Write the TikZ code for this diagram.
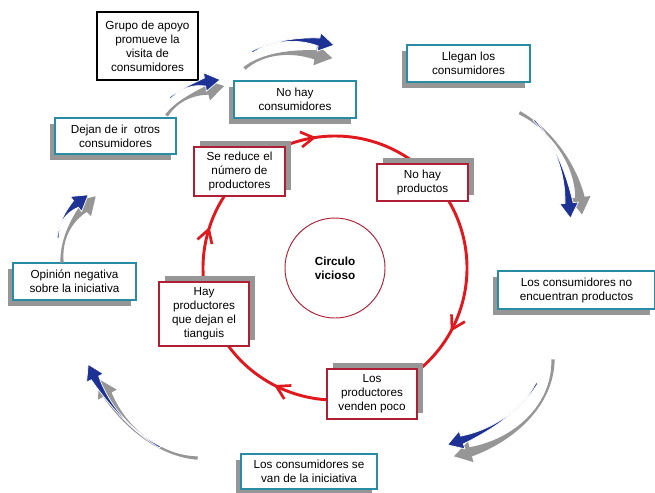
\documentclass[tikz,border=0pt]{standalone}
\usepackage{fontspec}
\setmainfont{Liberation Sans}
\usepackage{xcolor}
\usepackage{tikz}
\usetikzlibrary{calc}
\usetikzlibrary{arrows.meta}
\usetikzlibrary{shadows}
\usetikzlibrary{decorations.markings}

\definecolor{bordeazul}{RGB}{40,140,165}
\definecolor{borderojo}{RGB}{175,30,50}
\definecolor{rojociclo}{RGB}{225,25,30}
\definecolor{azulflecha}{RGB}{30,50,150}
\definecolor{grissombra}{RGB}{150,150,150}

\begin{document}
\begin{tikzpicture}[
        x=0.03cm, y=-0.03cm,
        font=\fontsize{10}{12}\selectfont,
        cajaazul/.style={draw=bordeazul, line width=1.2pt, fill=white, align=center, inner sep=2pt,
            drop shadow={shadow xshift=-4.3pt, shadow yshift=-5.1pt, fill=grissombra, opacity=1}},
        cajaroja/.style={draw=borderojo, line width=1.2pt, fill=white, align=center, inner sep=2pt,
            drop shadow={shadow xshift=5.1pt, shadow yshift=5.1pt, fill=grissombra, opacity=1}},
        cajanegra/.style={draw=black, line width=2.5pt, fill=white, align=center},
        ciclo/.style={draw=rojociclo, line width=2.5pt, postaction={decorate},
            decoration={markings, mark=at position #1 with {\arrow{Straight Barb[length=11pt, width=13pt, line width=2.3pt]}}}},
        azul/.style={fill=azulflecha, draw=white, line width=0.6pt},
        gris/.style={fill=grissombra, draw=grissombra, line width=1.2pt}
    ]

    \useasboundingbox (0,0) rectangle (655,492);

    %=== Flecha curva (estilo, inicio, control, control, base de la punta) ===%
    \newcommand{\flecha}[5]{
        \path[#1] ($(#2)!0.8pt!-90:(#3)$) .. controls (#3) and (#4) .. ($(#5)!3.5pt!90:(#4)$)
            -- ($(#5)!8pt!90:(#4)$) -- ($(#5)!13pt!180:(#4)$) -- ($(#5)!8pt!-90:(#4)$)
            -- ($(#5)!3.5pt!-90:(#4)$) .. controls (#4) and (#3) .. ($(#2)!0.8pt!90:(#3)$) -- cycle;
    }

    %=== Circulo vicioso ===%
    \node[draw=borderojo, line width=0.8pt, circle, minimum size=3cm, align=center,
        font=\bfseries\fontsize{10}{12}\selectfont] (vicioso) at (335,268) {Circulo\\vicioso};

    \draw[ciclo=0.41] ($(vicioso)+(-135:132)$) arc[start angle=-135, end angle=-45, radius=132];
    \draw[ciclo=0.62] ($(vicioso)+(-45:132)$) arc[start angle=-45, end angle=74, radius=132];
    \draw[ciclo=0.5] ($(vicioso)+(74:132)$) arc[start angle=74, end angle=161, radius=132];
    \draw[ciclo=0.58] ($(vicioso)+(161:132)$) arc[start angle=161, end angle=225, radius=132];

    %=== Productores ===%
    \node[cajaroja, minimum width=2.73cm, minimum height=1.47cm] (sereduce) at (239.5,171.5) {Se reduce el\\número de\\productores};
    \node[cajaroja, minimum width=2.73cm, minimum height=1.11cm] (nohayprod) at (422.5,182.5) {No hay\\productos};
    \node[cajaroja, minimum width=2.7cm, minimum height=1.5cm] (venden) at (372,394) {Los\\productores\\venden poco};
    \node[cajaroja, minimum width=2.7cm, minimum height=1.92cm] (hayprod) at (204,314) {Hay\\productores\\que dejan el\\tianguis};

    %=== Consumidores ===%
    \node[cajaazul, minimum width=3.66cm, minimum height=1.11cm] (nohaycons) at (295,99.5) {No hay\\consumidores};
    \node[cajaazul, minimum width=3.69cm, minimum height=1.11cm] (llegan) at (468.5,63.5) {Llegan los\\consumidores};
    \node[cajaazul, minimum width=4.71cm, minimum height=1.14cm] (noencuentran) at (576.5,290) {Los consumidores no\\encuentran productos};
    \node[cajaazul, minimum width=4.08cm, minimum height=1.05cm] (sevan) at (309,471.5) {Los consumidores se\\van de la iniciativa};
    \node[cajaazul, minimum width=3.69cm, minimum height=1.11cm] (opinion) at (74.5,281.5) {Opinión negativa\\sobre la iniciativa};
    \node[cajaazul, minimum width=3.63cm, minimum height=1.08cm] (dejan) at (115.5,136) {Dejan de ir\ \ otros\\consumidores};

    \node[cajanegra, minimum width=3.03cm, minimum height=2.04cm] (grupo) at (147.5,46) {Grupo de apoyo\\promueve la\\visita de\\consumidores};

    %=== Flechas azules ===%
    \flecha{gris}{245,68}{262,54}{290,50}{316,55}
    \flecha{azul}{252,52}{268,42}{295,37}{319,42}

    \flecha{gris}{167,115}{176,102}{192,94}{208,90}
    \flecha{azul}{170,98}{180,89}{192,84}{205,82}

    \flecha{gris}{520,113}{552,130}{576,165}{580,198}
    \flecha{azul}{534,120}{553,140}{566,172}{569,203}

    \flecha{gris}{553,360}{553,405}{515,440}{470,452}
    \flecha{azul}{537,383}{522,410}{492,430}{462,440}

    \flecha{gris}{197,458}{160,456}{125,428}{107,394}
    \flecha{azul}{160,447}{132,432}{108,404}{95,378}

    \flecha{gris}{62,262}{61,240}{70,222}{84,208}
    \flecha{azul}{58,238}{58,225}{64,213}{76,204}

\end{tikzpicture}
\end{document}
